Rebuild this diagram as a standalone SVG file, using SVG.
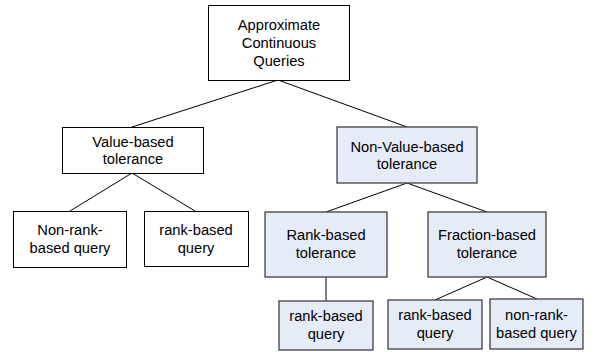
<svg xmlns="http://www.w3.org/2000/svg" width="594" height="352" viewBox="0 0 594 352">
<style>
.w{fill:#ffffff;stroke:#000000;stroke-width:1}
.b{fill:#e6ecf7;stroke:#404040;stroke-width:1.3}
text{font-family:"Liberation Sans",Arial,sans-serif;font-size:14.7px;fill:#000000;text-anchor:middle}
.c line{stroke:#000000;stroke-width:1}
</style>
<rect width="594" height="352" fill="#ffffff"/>
<g class="c" id="connectors">
<line x1="278" y1="80" x2="132" y2="127"/>
<line x1="278" y1="80" x2="407" y2="127"/>
<line x1="132" y1="173" x2="70" y2="211"/>
<line x1="132" y1="173" x2="195" y2="211"/>
<line x1="407" y1="183" x2="326" y2="212"/>
<line x1="407" y1="183" x2="487" y2="212"/>
<line x1="326" y1="277" x2="326" y2="301" style="stroke:#808080;stroke-width:2"/>
<line x1="487" y1="277" x2="435" y2="300"/>
<line x1="487" y1="277" x2="537" y2="299"/>
</g>
<g id="root"><rect class="w" x="208.5" y="5.5" width="141" height="75"/>
<text x="279" y="30">Approximate</text><text x="279" y="48">Continuous</text><text x="279" y="66">Queries</text></g>
<g id="value"><rect class="w" x="62.5" y="127.5" width="141" height="46"/>
<text x="133" y="147">Value-based</text><text x="133" y="164">tolerance</text></g>
<g id="nonvalue"><rect class="b" x="337" y="127" width="140" height="56"/>
<text x="407" y="152">Non-Value-based</text><text x="407" y="169">tolerance</text></g>
<g id="nonrank1"><rect class="w" x="13.5" y="211.5" width="113" height="56"/>
<text x="70" y="235">Non-rank-</text><text x="70" y="253">based query</text></g>
<g id="rank1"><rect class="w" x="144.5" y="211.5" width="104" height="55"/>
<text x="196" y="235">rank-based</text><text x="196" y="253">query</text></g>
<g id="ranktol"><rect class="b" x="265" y="212" width="122" height="65"/>
<text x="326" y="240">Rank-based</text><text x="326" y="258">tolerance</text></g>
<g id="fraction"><rect class="b" x="428" y="212" width="118" height="65"/>
<text x="487" y="240">Fraction-based</text><text x="487" y="258">tolerance</text></g>
<g id="rank2"><rect class="b" x="279" y="301" width="94" height="49"/>
<text x="326" y="321">rank-based</text><text x="326" y="339">query</text></g>
<g id="rank3"><rect class="b" x="388" y="300" width="94" height="49"/>
<text x="435" y="320">rank-based</text><text x="435" y="338">query</text></g>
<g id="nonrank2"><rect class="b" x="490" y="299" width="93" height="50"/>
<text x="536.5" y="320">non-rank-</text><text x="536.5" y="338">based query</text></g>
</svg>
